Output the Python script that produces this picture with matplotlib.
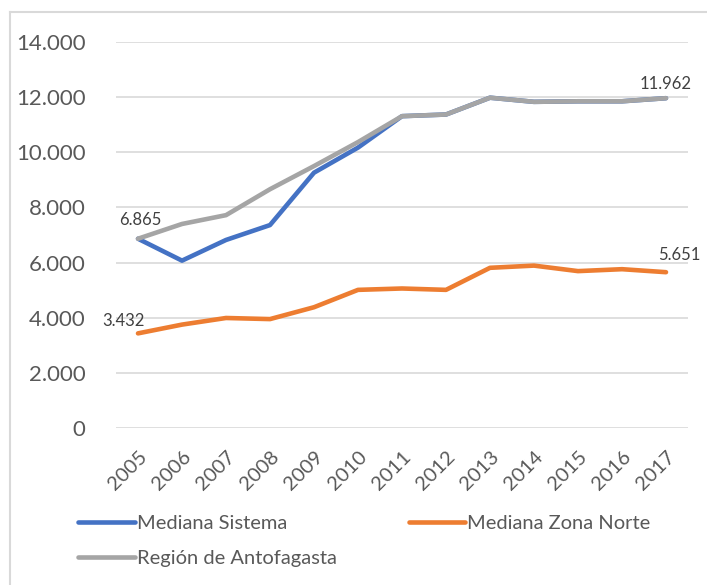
import matplotlib
matplotlib.use("Agg")
import matplotlib.pyplot as plt
from matplotlib.lines import Line2D
from matplotlib.ticker import FuncFormatter
import matplotlib.transforms as mtransforms

years = [2005, 2006, 2007, 2008, 2009, 2010, 2011, 2012, 2013, 2014, 2015, 2016, 2017]
mediana_sistema = [6865, 6070, 6820, 7360, 9260, 10170, 11310, 11370, 11980, 11830, 11850, 11850, 11962]
mediana_zona_norte = [3432, 3750, 3990, 3950, 4380, 5010, 5060, 5010, 5810, 5890, 5690, 5760, 5651]
region_antofagasta = [6865, 7400, 7720, 8660, 9500, 10370, 11310, 11370, 11980, 11830, 11850, 11850, 11962]
y_ticks = [0, 2000, 4000, 6000, 8000, 10000, 12000, 14000]

BLUE = "#4472C4"
ORANGE = "#ED7D31"
GRAY = "#A5A5A5"
TXT = "#595959"
GRID = "#D9D9D9"

plt.rcParams['font.family'] = ['Lato', 'DejaVu Sans']

W, H = 707, 585
fig = plt.figure(figsize=(W / 100, H / 100), dpi=100)
ax = fig.add_axes([116 / W, 1 - 428 / H, (688 - 116) / W, (428 - 42) / H])

lw = 3.3
l1, = ax.plot(years, mediana_sistema, color=BLUE, lw=lw, solid_capstyle='round', solid_joinstyle='round', label="Mediana Sistema", zorder=3)
l2, = ax.plot(years, mediana_zona_norte, color=ORANGE, lw=lw, solid_capstyle='round', solid_joinstyle='round', label="Mediana Zona Norte", zorder=3)
l3, = ax.plot(years, region_antofagasta, color=GRAY, lw=lw, solid_capstyle='round', solid_joinstyle='round', label="Región de Antofagasta", zorder=4)

ax.set_xlim(2004.5, 2017.5)
ax.set_ylim(0, 14000)
ax.set_yticks(y_ticks)
ax.yaxis.set_major_formatter(FuncFormatter(lambda v, p: f"{int(v):,}".replace(",", ".")))
ax.set_xticks(years)
ax.set_xticklabels([str(y) for y in years])
ax.grid(axis='y', color=GRID, lw=1.2)
ax.set_axisbelow(True)
for s in ax.spines.values():
    s.set_visible(False)
ax.tick_params(axis='y', length=0, pad=22, labelsize=16, labelcolor=TXT)
ax.tick_params(axis='x', length=0, pad=6, labelsize=14.5, labelcolor=TXT)
for lab in ax.get_xticklabels():
    lab.set_rotation(45)
    lab.set_ha('right')
    lab.set_va('center')
    lab.set_rotation_mode('anchor')
    lab.set_transform(lab.get_transform() + mtransforms.ScaledTranslation(6 / 100, -18 / 100, fig.dpi_scale_trans))


def fmt(v):
    return f"{int(v):,}".replace(",", ".")


def dlabel(x, y, dx, dy):
    ax.annotate(fmt(y), (x, y), xytext=(dx, dy), textcoords='offset pixels',
                ha='center', va='center', fontsize=12, color="#404040")

dlabel(years[0], region_antofagasta[0], 2, 19)
dlabel(years[0], mediana_zona_norte[0], -15, 12)
dlabel(years[-1], mediana_zona_norte[-1], 13, 17)
dlabel(years[-1], region_antofagasta[-1], 0, 14)

leg = fig.legend(handles=[l1, l3, l2], loc='upper left', bbox_to_anchor=(60 / W, 1 - 497 / H),
                 ncol=2, frameon=False, fontsize=14.5, handlelength=2.8, handletextpad=0.1,
                 columnspacing=3.6, labelspacing=0.9, labelcolor=TXT)

# outer border
fig.add_artist(Line2D([10 / W, 1], [1 - 12 / H, 1 - 12 / H], color=GRID, lw=1.5, transform=fig.transFigure))
fig.add_artist(Line2D([10 / W, 10 / W], [0, 1 - 12 / H], color=GRID, lw=1.5, transform=fig.transFigure))

fig.savefig("out.png", dpi=100, facecolor='white')
